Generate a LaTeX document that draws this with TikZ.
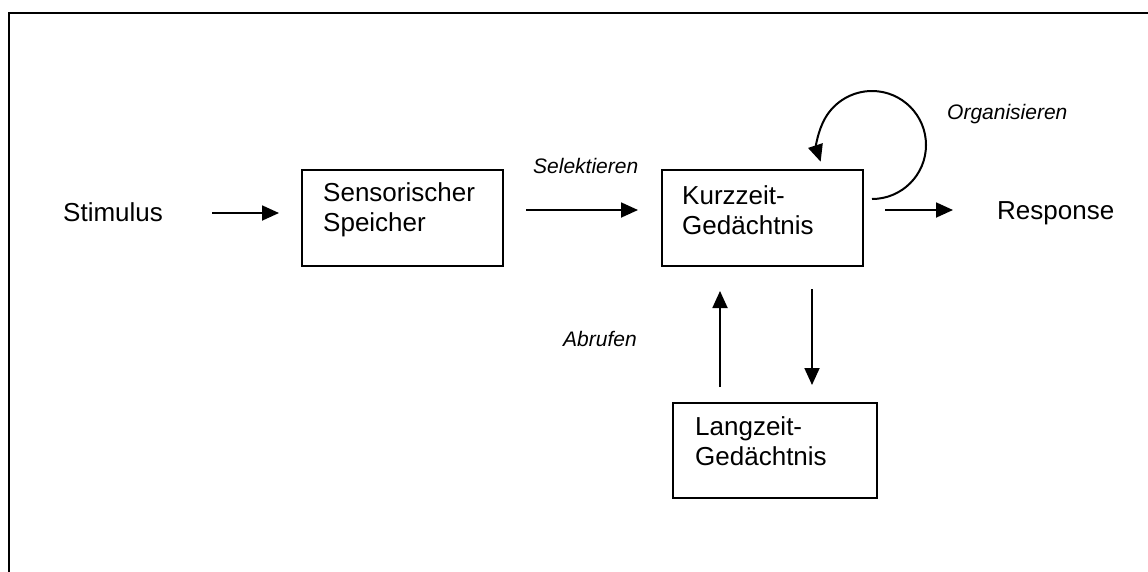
\documentclass[tikz,border=0pt]{standalone}
\usepackage{fontspec}
\setmainfont{Liberation Sans}
\usetikzlibrary{arrows.meta}
\begin{document}
\begin{tikzpicture}[x=1pt,y=-1pt,
  box/.style={draw, line width=1.8pt, inner sep=0pt},
  txt/.style={inner sep=0pt, anchor=base west, font=\fontsize{26}{30}\selectfont},
  btxt/.style={inner sep=0pt, anchor=base west, align=left, font=\fontsize{26}{30}\selectfont},
  lbl/.style={inner sep=0pt, anchor=base west, font=\fontsize{21}{25}\selectfont\itshape},
  arr/.style={line width=1.8pt, -{Triangle[length=17pt,width=15pt]}}
]
\useasboundingbox (0,0) rectangle (1148,571);
\draw[line width=2.4pt] (9,575) -- (9,13) -- (1152,13);

% boxes
\node[box, minimum width=201pt, minimum height=96pt] (ss) at (402.5,218) {};
\node[box, minimum width=201pt, minimum height=96pt] (kz) at (762.5,218) {};
\node[box, minimum width=204pt, minimum height=95pt] (lz) at (775,450.5) {};

% texts
\node[btxt] (sst) at (323,231) {Sensorischer\\Speicher};
\node[btxt] (kzt) at (682,234) {Kurzzeit-\\Gedächtnis};
\node[btxt] (lzt) at (695,465) {Langzeit-\\Gedächtnis};
\node[txt] (stim) at (63,221) {Stimulus};
\node[txt] (resp) at (997,219) {Response};
\node[lbl] (org) at (947,119) {Organisieren};
\node[lbl] (sel) at (533,173) {Selektieren};
\node[lbl] (abr) at (563,346) {Abrufen};

% connector end points
\coordinate (a1s) at (212,213);
\coordinate (a1e) at (279,213);
\coordinate (a2s) at (526,210);
\coordinate (a2e) at (638,210);
\coordinate (a3s) at (885,210);
\coordinate (a3e) at (953,210);
\coordinate (ups) at (720,387);
\coordinate (upe) at (720,291);
\coordinate (dns) at (812,289);
\coordinate (dne) at (812,385);
\coordinate (lps) at (872,199);

\draw[arr] (a1s) -- (a1e);
\draw[arr] (a2s) -- (a2e);
\draw[arr] (a3s) -- (a3e);
\draw[arr] (ups) -- (upe);
\draw[arr] (dns) -- (dne);
\draw[arr, line width=2pt] (lps) arc[start angle=90, end angle=-198, radius=54];
\end{tikzpicture}
\end{document}
